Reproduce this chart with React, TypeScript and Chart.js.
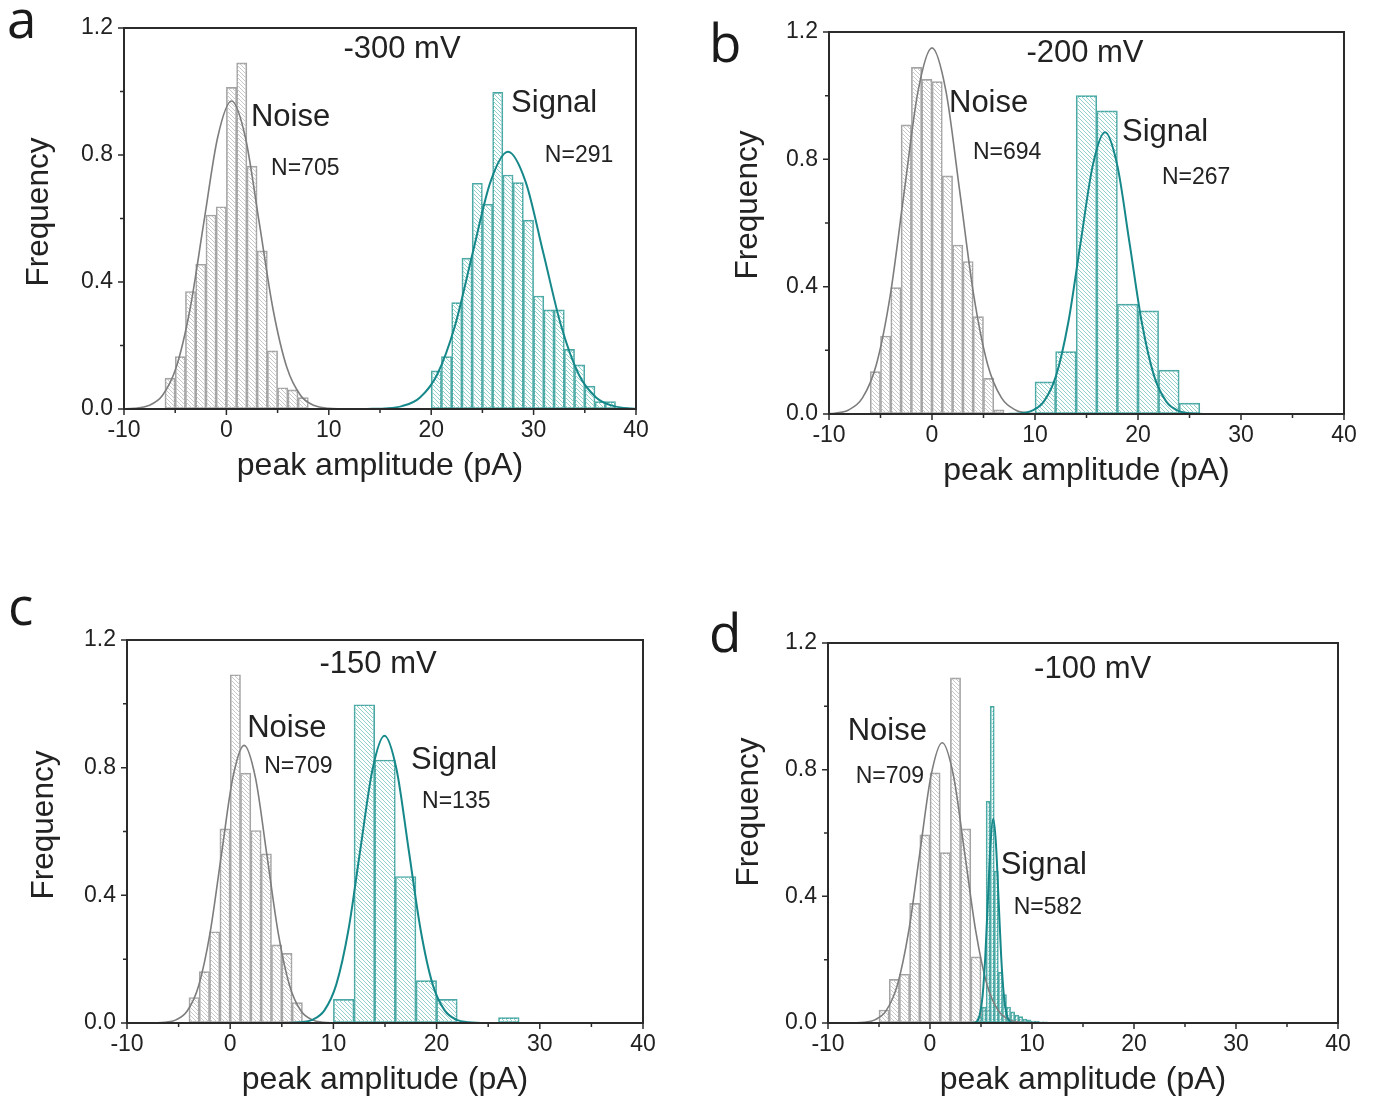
import React, { useEffect, useRef } from "react";
import { Chart, registerables } from "chart.js";

Chart.register(...registerables);

// ---------------- data ----------------
const X_TITLE = "peak amplitude (pA)";
const Y_TITLE = "Frequency";
const PANEL_LETTERS = ["a", "b", "c", "d"];
const VOLTAGES = ["-300 mV", "-200 mV", "-150 mV", "-100 mV"];
const N_NOISE = [705, 694, 709, 709];
const N_SIGNAL = [291, 267, 135, 582];

// panel a (-300 mV)
const NOISE_A_BINS = [-5.5, -4.5, -3.5, -2.5, -1.5, -0.5, 0.5, 1.5, 2.5, 3.5, 4.5, 5.5, 6.5, 7.5];
const NOISE_A_FREQ = [0.097, 0.165, 0.37, 0.456, 0.611, 0.637, 1.013, 1.09, 0.765, 0.498, 0.183, 0.067, 0.06, 0.036];
const SIGNAL_A_BINS = [20.5, 21.5, 22.5, 23.5, 24.5, 25.5, 26.5, 27.5, 28.5, 29.5, 30.5, 31.5, 32.5, 33.5, 34.5, 35.5, 36.5, 37.5];
const SIGNAL_A_FREQ = [0.12, 0.165, 0.335, 0.475, 0.711, 0.645, 0.997, 0.737, 0.713, 0.595, 0.356, 0.312, 0.312, 0.188, 0.139, 0.072, 0.023, 0.023];
const NOISE_A_FIT_X = [-10.3, -8.95, -7.6, -6.25, -4.9, -3.55, -2.2, -0.85, 0.5, 1.85, 3.2, 4.55, 5.9, 7.25, 8.6, 9.95, 11.3];
const NOISE_A_FIT_Y = [0.0003, 0.0021, 0.0108, 0.0426, 0.1312, 0.315, 0.5883, 0.856, 0.97, 0.856, 0.5883, 0.315, 0.1312, 0.0426, 0.0108, 0.0021, 0.0003];
const SIGNAL_A_FIT_X = [13.7, 15.43, 17.15, 18.88, 20.6, 22.33, 24.05, 25.78, 27.5, 29.23, 30.95, 32.68, 34.4, 36.13, 37.85, 39.58, 41.3];
const SIGNAL_A_FIT_Y = [0.0002, 0.0018, 0.009, 0.0356, 0.1096, 0.263, 0.4913, 0.7148, 0.81, 0.7148, 0.4913, 0.263, 0.1096, 0.0356, 0.009, 0.0018, 0.0002];

// panel b (-200 mV)
const NOISE_B_BINS = [-5.5, -4.5, -3.5, -2.5, -1.5, -0.5, 0.5, 1.5, 2.5, 3.5, 4.5, 5.5, 6.5];
const NOISE_B_FREQ = [0.133, 0.245, 0.397, 0.908, 1.089, 1.051, 1.044, 0.748, 0.531, 0.479, 0.306, 0.112, 0.013];
const SIGNAL_B_BINS = [11, 13, 15, 17, 19, 21, 23, 25];
const SIGNAL_B_FREQ = [0.101, 0.196, 1.0, 0.952, 0.345, 0.324, 0.138, 0.034];
const NOISE_B_FIT_X = [-10.8, -9.45, -8.1, -6.75, -5.4, -4.05, -2.7, -1.35, 0, 1.35, 2.7, 4.05, 5.4, 6.75, 8.1, 9.45, 10.8];
const NOISE_B_FIT_Y = [0.0003, 0.0025, 0.0128, 0.0505, 0.1556, 0.3734, 0.6975, 1.0149, 1.15, 1.0149, 0.6975, 0.3734, 0.1556, 0.0505, 0.0128, 0.0025, 0.0003];
const SIGNAL_B_FIT_X = [7.28, 8.47, 9.66, 10.85, 12.04, 13.23, 14.42, 15.61, 16.8, 17.99, 19.18, 20.37, 21.56, 22.75, 23.94, 25.13, 26.32];
const SIGNAL_B_FIT_Y = [0.0003, 0.0019, 0.0098, 0.0389, 0.1197, 0.2874, 0.5368, 0.781, 0.885, 0.781, 0.5368, 0.2874, 0.1197, 0.0389, 0.0098, 0.0019, 0.0003];

// panel c (-150 mV)
const NOISE_C_BINS = [-3.5, -2.5, -1.5, -0.5, 0.5, 1.5, 2.5, 3.5, 4.5, 5.5, 6.5];
const NOISE_C_FREQ = [0.08, 0.161, 0.286, 0.608, 1.091, 0.783, 0.603, 0.53, 0.245, 0.218, 0.064];
const SIGNAL_C_BINS = [11, 13, 15, 17, 19, 21, 27];
const SIGNAL_C_FREQ = [0.074, 0.997, 0.824, 0.459, 0.133, 0.074, 0.017];
const NOISE_C_FIT_X = [-7.45, -6.35, -5.25, -4.15, -3.05, -1.95, -0.85, 0.25, 1.35, 2.45, 3.55, 4.65, 5.75, 6.85, 7.95, 9.05, 10.15];
const NOISE_C_FIT_Y = [0.0003, 0.0019, 0.0097, 0.0382, 0.1177, 0.2825, 0.5277, 0.7678, 0.87, 0.7678, 0.5277, 0.2825, 0.1177, 0.0382, 0.0097, 0.0019, 0.0003];
const SIGNAL_C_FIT_X = [5.63, 6.8, 7.96, 9.13, 10.29, 11.46, 12.62, 13.79, 14.95, 16.12, 17.28, 18.45, 19.61, 20.78, 21.94, 23.11, 24.27];
const SIGNAL_C_FIT_Y = [0.0003, 0.002, 0.01, 0.0395, 0.1218, 0.2922, 0.5459, 0.7943, 0.9, 0.7943, 0.5459, 0.2922, 0.1218, 0.0395, 0.01, 0.002, 0.0003];

// panel d (-100 mV)
const NOISE_D_BINS = [-4.5, -3.5, -2.5, -1.5, -0.5, 0.5, 1.5, 2.5, 3.5, 4.5, 5.5];
const NOISE_D_FREQ = [0.041, 0.138, 0.154, 0.378, 0.594, 0.79, 0.538, 1.09, 0.613, 0.209, 0.04];
const SIGNAL_D_BINS = [4.9, 5.3, 5.7, 6.1, 6.5, 6.9, 7.3, 7.7, 8.1, 8.5, 8.9, 9.3, 9.7, 10.1, 10.5, 10.9, 11.3];
const SIGNAL_D_FREQ = [0.02, 0.05, 0.7, 1.0, 0.48, 0.16, 0.09, 0.05, 0.035, 0.025, 0.02, 0.012, 0.01, 0.006, 0.005, 0.004, 0.004];
const NOISE_D_FIT_X = [-7.6, -6.5, -5.4, -4.3, -3.2, -2.1, -1.0, 0.1, 1.2, 2.3, 3.4, 4.5, 5.6, 6.7, 7.8, 8.9, 10.0];
const NOISE_D_FIT_Y = [0.0003, 0.0019, 0.0098, 0.0389, 0.1197, 0.2874, 0.5368, 0.781, 0.885, 0.781, 0.5368, 0.2874, 0.1197, 0.0389, 0.0098, 0.0019, 0.0003];
const SIGNAL_D_FIT_X = [4.12, 4.38, 4.64, 4.9, 5.16, 5.42, 5.68, 5.94, 6.2, 6.46, 6.72, 6.98, 7.24, 7.5, 7.76, 8.02, 8.28];
const SIGNAL_D_FIT_Y = [0.0002, 0.0014, 0.0072, 0.0283, 0.0873, 0.2094, 0.3912, 0.5692, 0.645, 0.5692, 0.3912, 0.2094, 0.0873, 0.0283, 0.0072, 0.0014, 0.0002];

// ---------------- styles / layout ----------------
const FONT = '"Liberation Sans", Arial, Helvetica, sans-serif';
const LETTER_FONT = '"Open Sans", "Liberation Sans", sans-serif';
const TEXT = "#222222";
const AXIS = "#2b2b2b";
const NOISE_EDGE = "#a3a3a3";
const NOISE_HATCH = "#c8c8c8";
const NOISE_FIT = "#7d7d7d";
const SIGNAL_EDGE = "#4aa8a4";
const SIGNAL_HATCH = "#92d0cd";
const SIGNAL_FIT = "#16888a";

const YW = 124; // y-axis box width
const PT = 60; // padding above plot
const PR = 40; // padding right of plot
const XH = 80; // x-axis box height

type Txt = { text: string; x: number; y: number; size: number; align: CanvasTextAlign };

type Panel = {
  letter: string;
  noiseBins: number[]; noiseFreq: number[];
  signalBins: number[]; signalFreq: number[];
  noiseFitX: number[]; noiseFitY: number[];
  signalFitX: number[]; signalFitY: number[];
  plot: { l: number; t: number; r: number; b: number };
  letterPos: { x: number; y: number };
  yTitle: { x: number; y: number };
  texts: Txt[];
};

const mk = (i: number, pos: number[][]): Txt[] => [
  { text: VOLTAGES[i], x: pos[0][0], y: pos[0][1], size: 31, align: "center" },
  { text: "Noise", x: pos[1][0], y: pos[1][1], size: 31, align: "left" },
  { text: "N=" + N_NOISE[i], x: pos[2][0], y: pos[2][1], size: 23, align: "left" },
  { text: "Signal", x: pos[3][0], y: pos[3][1], size: 31, align: "left" },
  { text: "N=" + N_SIGNAL[i], x: pos[4][0], y: pos[4][1], size: 23, align: "left" },
];

const PANELS: Panel[] = [
  {
    letter: PANEL_LETTERS[0],
    noiseBins: NOISE_A_BINS, noiseFreq: NOISE_A_FREQ, signalBins: SIGNAL_A_BINS, signalFreq: SIGNAL_A_FREQ,
    noiseFitX: NOISE_A_FIT_X, noiseFitY: NOISE_A_FIT_Y, signalFitX: SIGNAL_A_FIT_X, signalFitY: SIGNAL_A_FIT_Y,
    plot: { l: 124, t: 28, r: 636, b: 409 },
    letterPos: { x: 7, y: 38 },
    yTitle: { x: 42, y: 212 },
    texts: mk(0, [[17.15, 1.131], [2.4, 0.917], [4.36, 0.756], [27.8, 0.961], [31.1, 0.797]]),
  },
  {
    letter: PANEL_LETTERS[1],
    noiseBins: NOISE_B_BINS, noiseFreq: NOISE_B_FREQ, signalBins: SIGNAL_B_BINS, signalFreq: SIGNAL_B_FREQ,
    noiseFitX: NOISE_B_FIT_X, noiseFitY: NOISE_B_FIT_Y, signalFitX: SIGNAL_B_FIT_X, signalFitY: SIGNAL_B_FIT_Y,
    plot: { l: 829, t: 32, r: 1344, b: 414 },
    letterPos: { x: 709, y: 62 },
    yTitle: { x: 751, y: 205 },
    texts: mk(1, [[14.85, 1.134], [1.65, 0.974], [3.98, 0.82], [18.45, 0.883], [22.33, 0.741]]),
  },
  {
    letter: PANEL_LETTERS[2],
    noiseBins: NOISE_C_BINS, noiseFreq: NOISE_C_FREQ, signalBins: SIGNAL_C_BINS, signalFreq: SIGNAL_C_FREQ,
    noiseFitX: NOISE_C_FIT_X, noiseFitY: NOISE_C_FIT_Y, signalFitX: SIGNAL_C_FIT_X, signalFitY: SIGNAL_C_FIT_Y,
    plot: { l: 127, t: 640, r: 643, b: 1023 },
    letterPos: { x: 8, y: 625 },
    yTitle: { x: 47.5, y: 825 },
    texts: mk(2, [[14.33, 1.122], [1.65, 0.922], [3.29, 0.803], [17.52, 0.824], [18.59, 0.693]]),
  },
  {
    letter: PANEL_LETTERS[3],
    noiseBins: NOISE_D_BINS, noiseFreq: NOISE_D_FREQ, signalBins: SIGNAL_D_BINS, signalFreq: SIGNAL_D_FREQ,
    noiseFitX: NOISE_D_FIT_X, noiseFitY: NOISE_D_FIT_Y, signalFitX: SIGNAL_D_FIT_X, signalFitY: SIGNAL_D_FIT_Y,
    plot: { l: 828, t: 643, r: 1338, b: 1023 },
    letterPos: { x: 709, y: 652 },
    yTitle: { x: 752.5, y: 812 },
    texts: mk(3, [[15.95, 1.118], [-8.07, 0.922], [-7.29, 0.777], [6.93, 0.496], [8.2, 0.363]]),
  },
];

function geom(p: Panel) {
  return {
    left: p.plot.l - YW,
    top: p.plot.t - PT,
    w: p.plot.r - p.plot.l + YW + PR,
    h: p.plot.b - p.plot.t + PT + XH,
  };
}

function makeHatch(ctx: CanvasRenderingContext2D, color: string): CanvasPattern {
  const s = 4;
  const c = document.createElement("canvas");
  c.width = s;
  c.height = s;
  const g = c.getContext("2d")!;
  g.strokeStyle = color;
  g.lineWidth = 1;
  g.beginPath();
  g.moveTo(-1, -1);
  g.lineTo(s + 1, s + 1);
  g.moveTo(s - 1, -1);
  g.lineTo(s + 1, 1);
  g.moveTo(-1, s - 1);
  g.lineTo(1, s + 1);
  g.stroke();
  return ctx.createPattern(c, "repeat")!;
}

const pts = (xs: number[], ys: number[]) => xs.map((x, i) => ({ x, y: ys[i] }));

function buildChart(canvas: HTMLCanvasElement, p: Panel): Chart {
  const ctx = canvas.getContext("2d")!;
  const g = geom(p);
  const grayHatch = makeHatch(ctx, NOISE_HATCH);
  const tealHatch = makeHatch(ctx, SIGNAL_HATCH);

  const decor = {
    id: "panelDecor",
    afterDatasetsDraw(chart: any) {
      const c: CanvasRenderingContext2D = chart.ctx;
      const a = chart.chartArea;
      const xs = chart.scales.x;
      const ys = chart.scales.y;
      c.save();
      // frame
      c.strokeStyle = AXIS;
      c.lineWidth = 2;
      c.strokeRect(a.left, a.top, a.right - a.left, a.bottom - a.top);
      // outward ticks (major labelled, minor halfway)
      c.lineWidth = 1.5;
      c.beginPath();
      const xt = xs.ticks.map((t: any) => t.value);
      for (let i = 0; i < xt.length; i++) {
        const px = xs.getPixelForValue(xt[i]);
        c.moveTo(px, a.bottom);
        c.lineTo(px, a.bottom + 6);
        if (i < xt.length - 1) {
          const mx = xs.getPixelForValue((xt[i] + xt[i + 1]) / 2);
          c.moveTo(mx, a.bottom);
          c.lineTo(mx, a.bottom + 4);
        }
      }
      const yt = ys.ticks.map((t: any) => t.value);
      for (let i = 0; i < yt.length; i++) {
        const py = ys.getPixelForValue(yt[i]);
        c.moveTo(a.left, py);
        c.lineTo(a.left - 6, py);
        if (i < yt.length - 1) {
          const my = ys.getPixelForValue((yt[i] + yt[i + 1]) / 2);
          c.moveTo(a.left, my);
          c.lineTo(a.left - 4, my);
        }
      }
      c.stroke();
      // annotations
      c.fillStyle = TEXT;
      c.textBaseline = "middle";
      for (const t of p.texts) {
        c.font = `${t.size}px ${FONT}`;
        c.textAlign = t.align;
        c.fillText(t.text, xs.getPixelForValue(t.x), ys.getPixelForValue(t.y));
      }
      // y title
      c.save();
      c.translate(p.yTitle.x - 3 - g.left, p.yTitle.y - g.top);
      c.rotate(-Math.PI / 2);
      c.textAlign = "center";
      c.textBaseline = "middle";
      c.font = `31.5px ${FONT}`;
      c.fillText(Y_TITLE, 0, 0);
      c.restore();
      // panel letter
      c.font = `53px ${LETTER_FONT}`;
      c.textAlign = "left";
      c.textBaseline = "alphabetic";
      c.fillStyle = "#1a1a1a";
      c.fillText(p.letter, p.letterPos.x - g.left, p.letterPos.y - g.top);
      c.restore();
    },
  };

  const hiddenGrid = {
    display: true,
    offset: false,
    drawOnChartArea: false,
    drawTicks: true,
    tickLength: 6,
    color: "rgba(0,0,0,0)",
    tickColor: "rgba(0,0,0,0)",
  };

  return new Chart(canvas, {
    type: "bar",
    data: {
      datasets: [
        {
          type: "bar",
          label: "Noise",
          data: pts(p.noiseBins, p.noiseFreq),
          xAxisID: "x",
          yAxisID: "y",
          backgroundColor: grayHatch,
          borderColor: NOISE_EDGE,
          borderWidth: 1,
          borderSkipped: false,
          categoryPercentage: 1,
          barPercentage: 1,
          grouped: false,
          order: 3,
        },
        {
          type: "bar",
          label: "Signal",
          data: pts(p.signalBins, p.signalFreq),
          xAxisID: "x2",
          yAxisID: "y",
          backgroundColor: tealHatch,
          borderColor: SIGNAL_EDGE,
          borderWidth: 1,
          borderSkipped: false,
          categoryPercentage: 1,
          barPercentage: 1,
          grouped: false,
          order: 2,
        },
        {
          type: "line",
          label: "Noise fit",
          data: pts(p.noiseFitX, p.noiseFitY),
          xAxisID: "x",
          yAxisID: "y",
          borderColor: NOISE_FIT,
          borderWidth: 1.6,
          pointRadius: 0,
          fill: false,
          cubicInterpolationMode: "monotone",
          order: 1,
        },
        {
          type: "line",
          label: "Signal fit",
          data: pts(p.signalFitX, p.signalFitY),
          xAxisID: "x",
          yAxisID: "y",
          borderColor: SIGNAL_FIT,
          borderWidth: 2,
          pointRadius: 0,
          fill: false,
          cubicInterpolationMode: "monotone",
          order: 0,
        },
      ] as any,
    },
    options: {
      responsive: false,
      animation: false,
      devicePixelRatio: 1,
      layout: { padding: { top: PT, right: PR, left: 0, bottom: 0 } },
      plugins: { legend: { display: false }, tooltip: { enabled: false } },
      scales: {
        x: {
          type: "linear",
          position: "bottom",
          offset: false,
          min: -10,
          max: 40,
          ticks: {
            stepSize: 10,
            color: TEXT,
            font: { family: FONT, size: 23 },
            padding: 2,
            maxRotation: 0,
            autoSkip: false,
          },
          grid: hiddenGrid,
          border: { display: false },
          title: {
            display: true,
            text: X_TITLE,
            color: TEXT,
            font: { family: FONT, size: 32 },
            padding: { top: 0, bottom: 4 },
          },
          afterFit: (s: any) => {
            s.height = XH;
          },
        },
        x2: { type: "linear", offset: false, min: -10, max: 40, display: false, grid: { offset: false } },
        y: {
          type: "linear",
          position: "left",
          min: 0,
          max: 1.2,
          ticks: {
            stepSize: 0.4,
            color: TEXT,
            font: { family: FONT, size: 23 },
            padding: 5,
            callback: (v: any) => Number(v).toFixed(1),
          },
          grid: hiddenGrid,
          border: { display: false },
          afterFit: (s: any) => {
            s.width = YW;
          },
        },
      } as any,
    },
    plugins: [decor],
  } as any);
}

export default function App() {
  const refs = useRef<(HTMLCanvasElement | null)[]>([]);
  useEffect(() => {
    const charts = PANELS.map((p, i) => buildChart(refs.current[i]!, p));
    return () => charts.forEach((c) => c.destroy());
  }, []);
  return (
    <div
      style={{
        position: "absolute",
        left: 0,
        top: 0,
        width: 1376,
        height: 1104,
        overflow: "hidden",
        background: "#ffffff",
      }}
    >
      {PANELS.map((p, i) => {
        const g = geom(p);
        return (
          <canvas
            key={p.letter}
            ref={(el) => {
              refs.current[i] = el;
            }}
            width={g.w}
            height={g.h}
            style={{ position: "absolute", left: g.left, top: g.top, width: g.w, height: g.h }}
          />
        );
      })}
    </div>
  );
}
